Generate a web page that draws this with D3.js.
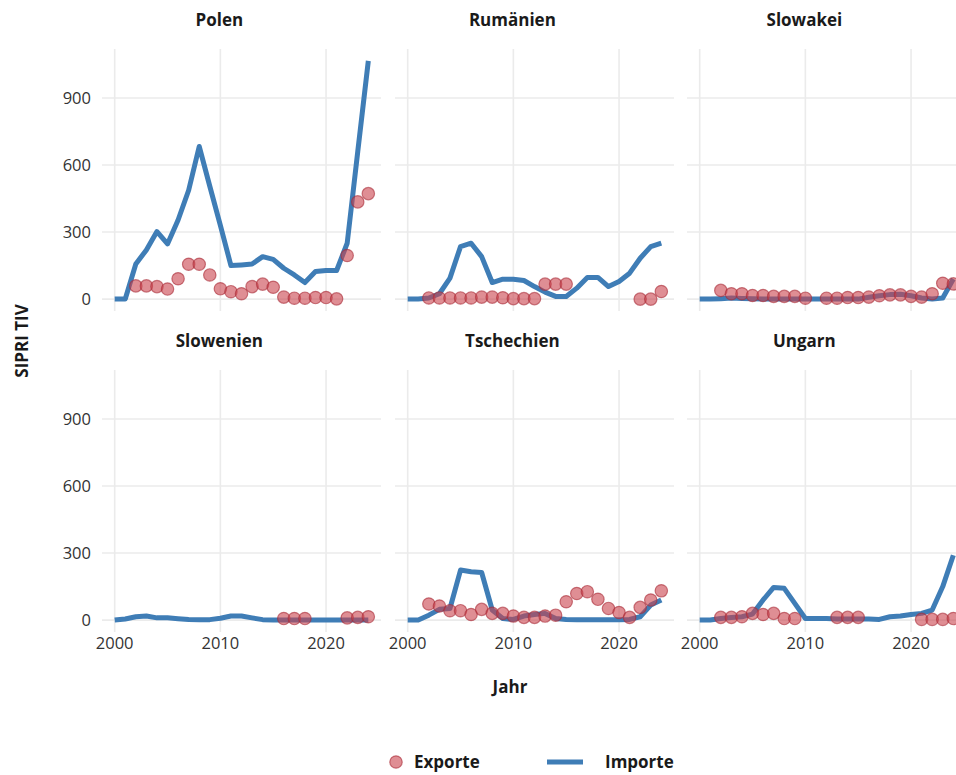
<!DOCTYPE html>
<html>
<head>
<meta charset="utf-8">
<script src="https://cdn.jsdelivr.net/npm/d3@7"></script>
<style>
  body { margin: 0; background: #fff; }
  text { font-family: "Open Sans", "Noto Sans", sans-serif; }
</style>
</head>
<body>
<div id="chart"></div>
<script>
// categories
var countries = ["Polen", "Rumänien", "Slowakei", "Slowenien", "Tschechien", "Ungarn"];
var years = [2000, 2001, 2002, 2003, 2004, 2005, 2006, 2007, 2008, 2009, 2010, 2011, 2012,
             2013, 2014, 2015, 2016, 2017, 2018, 2019, 2020, 2021, 2022, 2023, 2024];
var yTicks = [0, 300, 600, 900];
var xTicks = [2000, 2010, 2020];

// imports (line), SIPRI TIV per year
var importsPolen      = [0, 0, 157, 220, 302, 247, 354, 487, 683, 505, 330, 150, 153, 157, 190, 178, 138, 108, 74, 123, 128, 128, 250, 660, 1066];
var importsRumaenien  = [0, 0, 5, 24, 94, 235, 250, 190, 74, 89, 89, 83, 56, 31, 12, 12, 49, 97, 97, 56, 79, 116, 183, 235, 250];
var importsSlowakei   = [0, 0, 2, 5, 3, 2, 0, 0, 0, 0, 0, 0, 0, 0, 0, 0, 8, 15, 20, 22, 15, 5, 0, 5, 90];
var importsSlowenien  = [0, 5, 15, 18, 10, 10, 6, 3, 2, 2, 8, 18, 18, 10, 2, 0, 0, 0, 0, 0, 0, 0, 0, 0, 0];
var importsTschechien = [0, 0, 22, 48, 52, 224, 216, 213, 45, 7, 3, 18, 25, 30, 7, 3, 2, 2, 2, 2, 2, 3, 15, 67, 90];
var importsUngarn     = [0, 0, 7, 12, 15, 27, 90, 146, 142, 75, 7, 7, 7, 5, 5, 5, 5, 3, 15, 18, 25, 30, 45, 150, 290];

// exports (points), null = no value
var exportsPolen      = [null, null, 59, 59, 56, 45, 91, 156, 156, 108, 46, 33, 24, 56, 67, 53, 9, 4, 4, 7, 7, 1, 195, 435, 472];
var exportsRumaenien  = [null, null, 5, 5, 5, 5, 5, 9, 9, 6, 2, 2, 2, 67, 67, 67, null, null, null, null, null, null, 0, 0, 34];
var exportsSlowakei   = [null, null, 39, 24, 24, 16, 16, 12, 12, 12, 4, null, 4, 4, 7, 7, 9, 15, 19, 19, 12, 9, 24, 71, 68];
var exportsSlowenien  = [null, null, null, null, null, null, null, null, null, null, null, null, null, null, null, null, 7, 7, 7, null, null, null, 10, 12, 15];
var exportsTschechien = [null, null, 72, 63, 42, 42, 25, 48, 30, 30, 18, 12, 12, 18, 22, 82, 119, 127, 93, 52, 34, 12, 57, 90, 131];
var exportsUngarn     = [null, null, 12, 12, 15, 30, 25, 30, 7, 7, null, null, null, 12, 12, 12, null, null, null, null, null, 3, 3, 3, 7];

var importSeries = [importsPolen, importsRumaenien, importsSlowakei, importsSlowenien, importsTschechien, importsUngarn];
var exportSeries = [exportsPolen, exportsRumaenien, exportsSlowakei, exportsSlowenien, exportsTschechien, exportsUngarn];

var width = 956, height = 775;
var lineColor = "#3f7db6", dotFill = "#c9434d", dotStroke = "#a82a35";

var svg = d3.select("#chart").append("svg")
    .attr("width", width)
    .attr("height", height);

// panel layout
var panelW = 279, panelH = 262;
var colLeft = [102, 395, 687];
var rowTop = [49, 370];

var yMax = d3.max(importSeries, function(s) { return d3.max(s); });
var yPad = yMax * 0.05;
var x = d3.scaleLinear().domain([2000 - 1.2, 2024 + 1.2]).range([0, panelW]);
var y = d3.scaleLinear().domain([-yPad, yMax + yPad]).range([panelH, 0]);

var line = d3.line()
    .x(function(d) { return x(d.year); })
    .y(function(d) { return y(d.value); });

countries.forEach(function(name, i) {
    var col = i % 3, row = Math.floor(i / 3);
    var g = svg.append("g")
        .attr("transform", "translate(" + colLeft[col] + "," + rowTop[row] + ")");

    // grid
    g.selectAll("line.hgrid").data(yTicks).enter().append("line")
        .attr("x1", 0).attr("x2", panelW)
        .attr("y1", function(d) { return y(d); })
        .attr("y2", function(d) { return y(d); })
        .attr("stroke", "#ebebeb").attr("stroke-width", 1.6);
    g.selectAll("line.vgrid").data(xTicks).enter().append("line")
        .attr("y1", 0).attr("y2", panelH)
        .attr("x1", function(d) { return x(d); })
        .attr("x2", function(d) { return x(d); })
        .attr("stroke", "#ebebeb").attr("stroke-width", 1.6);

    // strip title
    g.append("text")
        .attr("x", x(2010) - 1)
        .attr("y", -23)
        .attr("text-anchor", "middle")
        .style("font-size", "17px")
        .style("font-weight", 700)
        .style("fill", "#1a1a1a")
        .text(name);

    // y axis labels on first column
    if (col == 0) {
        g.selectAll("text.ytick").data(yTicks).enter().append("text")
            .attr("x", -11)
            .attr("y", function(d) { return y(d); })
            .attr("dy", "0.35em")
            .attr("text-anchor", "end")
            .style("font-size", "16.5px")
            .style("fill", "#333")
            .text(function(d) { return d; });
    }
    // x axis labels on bottom row
    if (row == 1) {
        g.selectAll("text.xtick").data(xTicks).enter().append("text")
            .attr("x", function(d) { return x(d); })
            .attr("y", panelH + 17)
            .attr("text-anchor", "middle")
            .style("font-size", "16.5px")
            .style("fill", "#333")
            .text(function(d) { return d; });
    }

    var imp = years.map(function(yr, k) { return {year: yr, value: importSeries[i][k]}; });
    var exp = years.map(function(yr, k) { return {year: yr, value: exportSeries[i][k]}; })
        .filter(function(d) { return d.value !== null; });

    g.append("path")
        .datum(imp)
        .attr("d", line)
        .attr("fill", "none")
        .attr("stroke", lineColor)
        .attr("stroke-width", 5)
        .attr("stroke-linejoin", "round");

    g.selectAll("circle").data(exp).enter().append("circle")
        .attr("cx", function(d) { return x(d.year); })
        .attr("cy", function(d) { return y(d.value); })
        .attr("r", 6.2)
        .attr("fill", dotFill)
        .attr("fill-opacity", 0.6)
        .attr("stroke", dotStroke)
        .attr("stroke-opacity", 0.6)
        .attr("stroke-width", 1.2);
});

// axis titles
svg.append("text")
    .attr("x", 510).attr("y", 693)
    .attr("text-anchor", "middle")
    .style("font-size", "17px").style("font-weight", 700).style("fill", "#1a1a1a")
    .text("Jahr");
svg.append("text")
    .attr("transform", "translate(28,341) rotate(-90)")
    .attr("text-anchor", "middle")
    .style("font-size", "17px").style("font-weight", 700).style("fill", "#1a1a1a")
    .text("SIPRI TIV");

// legend
var lg = svg.append("g").attr("transform", "translate(0,762)");
lg.append("circle")
    .attr("cx", 396).attr("cy", 0).attr("r", 6.2)
    .attr("fill", dotFill).attr("fill-opacity", 0.6)
    .attr("stroke", dotStroke).attr("stroke-opacity", 0.6).attr("stroke-width", 1.2);
lg.append("text")
    .attr("x", 414).attr("y", 0).attr("dy", "0.35em")
    .style("font-size", "17px").style("font-weight", 700).style("fill", "#1a1a1a")
    .text("Exporte");
lg.append("line")
    .attr("x1", 547).attr("x2", 583).attr("y1", 0).attr("y2", 0)
    .attr("stroke", lineColor).attr("stroke-width", 5);
lg.append("text")
    .attr("x", 605).attr("y", 0).attr("dy", "0.35em")
    .style("font-size", "17px").style("font-weight", 700).style("fill", "#1a1a1a")
    .text("Importe");
</script>
</body>
</html>
